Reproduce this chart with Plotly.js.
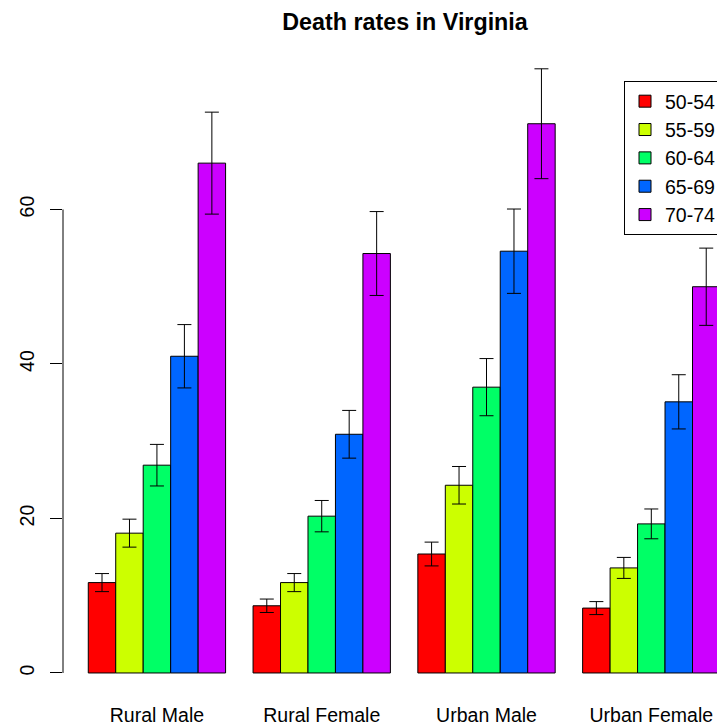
<!DOCTYPE html>
<html>
<head>
<meta charset="utf-8">
<script src="https://cdn.plot.ly/plotly-3.0.1.min.js"></script>
<style>
html, body { margin: 0; padding: 0; overflow: hidden; background: #fff; }
#chart { width: 800px; height: 725px; }
</style>
</head>
<body>
<div id="chart"></div>
<script>
// Data (VADeaths: deaths per 1000, Virginia 1940)
var categories = ["Rural Male", "Rural Female", "Urban Male", "Urban Female"];
var ageGroups = ["50-54", "55-59", "60-64", "65-69", "70-74"];
var rate5054 = [11.7, 8.7, 15.4, 8.4];
var rate5559 = [18.1, 11.7, 24.3, 13.6];
var rate6064 = [26.9, 20.3, 37.0, 19.3];
var rate6569 = [41.0, 30.9, 54.6, 35.1];
var rate7074 = [66.0, 54.3, 71.1, 50.0];
var err5054 = [1.17, 0.87, 1.54, 0.84];
var err5559 = [1.81, 1.17, 2.43, 1.36];
var err6064 = [2.69, 2.03, 3.70, 1.93];
var err6569 = [4.10, 3.09, 5.46, 3.51];
var err7074 = [6.60, 5.43, 7.11, 5.00];
var yTicks = [0, 20, 40, 60];

var seriesValues = [rate5054, rate5559, rate6064, rate6569, rate7074];
var seriesErrors = [err5054, err5559, err6064, err6569, err7074];
var colors = ["#FF0000", "#CCFF00", "#00FF66", "#0066FF", "#CC00FF"];

var traces = ageGroups.map(function (name, i) {
  return {
    type: "bar",
    name: name,
    x: categories,
    y: seriesValues[i],
    marker: { color: colors[i], line: { color: "#000", width: 1 } },
    error_y: { type: "data", array: seriesErrors[i], visible: true, color: "#000", thickness: 1, width: 7 }
  };
});

var font = "Liberation Sans, Arial, Helvetica, sans-serif";
var fs = 19.5;
var layout = {
  width: 800,
  height: 725,
  margin: { l: 63, r: 20, t: 40, b: 28 },
  paper_bgcolor: "#fff",
  plot_bgcolor: "#fff",
  font: { family: font, size: fs, color: "#000" },
  title: {
    text: "<b>Death rates in Virginia</b>",
    font: { family: font, size: 23.3, color: "#000" },
    x: 405 / 800, xref: "container", xanchor: "center",
    y: 1 - 22 / 725, yref: "container", yanchor: "middle"
  },
  barmode: "group",
  bargap: 1 / 6,
  bargroupgap: 0,
  showlegend: true,
  legend: {
    x: (624 - 63) / 717, xanchor: "left",
    y: (697 - 81) / 657, yanchor: "top",
    bordercolor: "#000", borderwidth: 1, bgcolor: "#fff",
    font: { family: font, size: fs, color: "#000" },
    traceorder: "normal"
  },
  xaxis: {
    type: "category",
    range: [-0.570, 3.781],
    showgrid: false, zeroline: false, showline: false,
    ticks: "",
    ticklabelstandoff: 4,
    tickfont: { family: font, size: fs, color: "#000" }
  },
  yaxis: {
    range: [-3.11, 81.94],
    showgrid: false, zeroline: false, showline: false,
    tickvals: yTicks,
    ticktext: yTicks.map(String),
    ticks: "outside", ticklen: 12, tickwidth: 1, tickcolor: "#000",
    tickangle: -90,
    ticklabelstandoff: 8,
    tickfont: { family: font, size: fs, color: "#000" }
  },
  shapes: [{
    type: "line", xref: "paper", yref: "y",
    x0: 0, x1: 0, y0: yTicks[0], y1: yTicks[yTicks.length - 1],
    line: { color: "#000", width: 1 }
  }]
};

Plotly.newPlot("chart", traces, layout, { staticPlot: true, displayModeBar: false });
</script>
</body>
</html>
